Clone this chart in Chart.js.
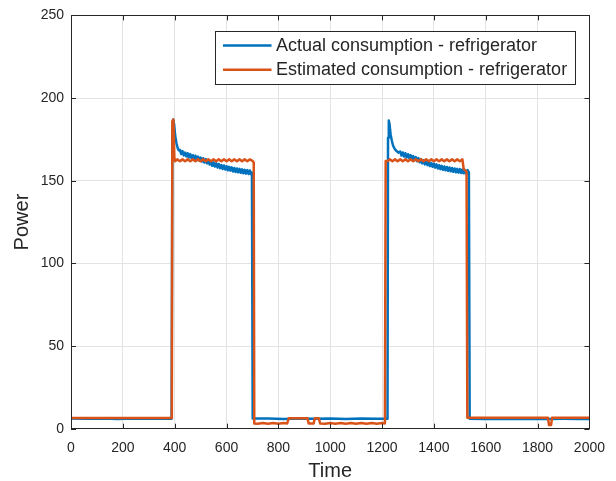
<!DOCTYPE html>
<html>
<head>
<meta charset="utf-8">
<script src="https://cdn.jsdelivr.net/npm/chart.js@4.4.1/dist/chart.umd.min.js"></script>
<style>
  html, body { margin: 0; padding: 0; background: #ffffff; }
  #wrap { width: 616px; height: 481px; }
</style>
</head>
<body>
<div id="wrap"><canvas id="c" width="616" height="481"></canvas></div>
<script>
// ---------- DATA ----------
const seriesLabels = ['Actual consumption - refrigerator', 'Estimated consumption - refrigerator'];
const xTickValues = [0, 200, 400, 600, 800, 1000, 1200, 1400, 1600, 1800, 2000];
const yTickValues = [0, 50, 100, 150, 200, 250];
const xTitle = 'Time';
const yTitle = 'Power';

const actualTime = [
  0, 60, 120, 180, 240, 300, 360, 388, 391, 394, 398, 402, 407, 412, 416,
  420, 425, 430, 435, 440, 445, 450, 455, 460, 465, 470, 475, 480, 485, 490, 495,
  500, 505, 510, 515, 520, 525, 530, 535, 540, 545, 550, 555, 560, 565, 570, 575,
  580, 585, 590, 595, 600, 605, 610, 615, 620, 625, 630, 635, 640, 645, 650, 655,
  660, 665, 670, 675, 680, 685, 690, 695, 698, 701,
  760, 820, 880, 940, 1000, 1060, 1120, 1180, 1221, 1223, 1226, 1229, 1233, 1238, 1243, 1250, 1257, 1264,
  1270, 1275, 1280, 1285, 1290, 1295, 1300, 1305, 1310, 1315, 1320, 1325, 1330, 1335, 1340, 1345,
  1350, 1355, 1360, 1365, 1370, 1375, 1380, 1385, 1390, 1395, 1400, 1405, 1410, 1415, 1420, 1425,
  1430, 1435, 1440, 1445, 1450, 1455, 1460, 1465, 1470, 1475, 1480, 1485, 1490, 1495, 1500, 1505,
  1510, 1515, 1520, 1525, 1530, 1535, 1538,
  1600, 1660, 1720, 1780, 1840, 1900, 1960, 2000
];
const actualPower = [
  6.1, 6.0, 6.2, 5.9, 6.1, 6.0, 6.1, 6.0, 178, 187, 184, 177, 172.5, 169.5, 168.4,
  168.6, 166.2, 167.9, 165.3, 167.0, 164.7, 166.6, 164.0, 166.1, 163.6, 165.4, 163.1, 165.1, 162.5, 164.6, 162.1,
  164.0, 161.6, 163.6, 161.0, 163.1, 160.5, 162.3, 159.8, 161.6, 159.0, 161.1, 158.6, 160.6, 158.0, 160.1, 157.6,
  159.5, 157.1, 159.2, 156.8, 158.8, 156.3, 158.4, 156.1, 158.1, 155.6, 157.7, 155.3, 157.4, 155.1, 157.2, 154.8,
  156.9, 154.5, 156.6, 154.3, 156.4, 154.1, 156.2, 153.9, 155.0, 6.1,
  6.2, 5.9, 6.1, 6.0, 6.2, 5.9, 6.1, 6.0, 6.0, 176, 186.5, 184, 178, 174, 171, 169, 167.8, 167.0,
  167.7, 165.2, 167.1, 164.6, 166.6, 164.1, 166.0, 163.6, 165.5, 163.0, 164.9, 162.4, 164.3, 161.8, 163.7, 161.2,
  163.1, 160.5, 162.4, 159.9, 161.8, 159.4, 161.3, 158.9, 160.8, 158.4, 160.3, 157.9, 159.9, 157.4, 159.4, 157.0,
  159.0, 156.6, 158.6, 156.3, 158.3, 156.0, 158.0, 155.7, 157.7, 155.4, 157.4, 155.1, 157.2, 154.9, 157.0, 154.7,
  156.8, 154.5, 156.6, 154.3, 156.4, 155.0, 6.0,
  5.9, 6.0, 5.8, 6.0, 5.9, 6.0, 5.9, 5.9
];

const estTime = [
  0, 100, 200, 300, 389, 391, 395, 399,
  401, 410, 420, 430, 440, 450, 460, 470, 480, 490, 500, 510, 520, 530, 540, 550,
  560, 570, 580, 590, 600, 610, 620, 630, 640, 650, 660, 670, 680, 690, 700, 705, 707,
  720, 740, 760, 780, 800, 820, 834, 840, 880, 912, 917, 936, 941, 956, 961,
  980, 1000, 1020, 1040, 1060, 1080, 1100, 1120, 1140, 1160, 1180, 1200, 1211, 1214,
  1220, 1230, 1240, 1250, 1260, 1270, 1280, 1290, 1300, 1310, 1320, 1330, 1340, 1350,
  1360, 1370, 1380, 1390, 1400, 1410, 1420, 1430, 1440, 1450, 1460, 1470, 1480, 1490,
  1500, 1510, 1515, 1526, 1529,
  1600, 1700, 1800, 1840, 1844, 1852, 1856, 1900, 1950, 2000
];
const estPower = [
  6.5, 6.5, 6.5, 6.5, 6.5, 186, 187, 163,
  161.8, 162.9, 161.8, 162.9, 161.8, 162.9, 161.8, 162.9, 161.8, 162.9, 161.8, 162.9, 161.8, 162.9, 161.8, 162.9,
  161.8, 162.9, 161.8, 162.9, 161.8, 162.9, 161.8, 162.9, 161.8, 162.9, 161.8, 162.9, 161.8, 162.9, 162.0, 161.0, 3.2,
  3.0, 3.4, 3.0, 3.4, 3.0, 3.4, 3.2, 6.3, 6.3, 6.3, 3.2, 3.2, 6.3, 6.3, 3.2,
  3.0, 3.4, 3.0, 3.4, 3.0, 3.4, 3.0, 3.4, 3.0, 3.4, 3.0, 3.4, 3.2, 162,
  161.8, 162.9, 161.8, 162.9, 161.8, 162.9, 161.8, 162.9, 161.8, 162.9, 161.8, 162.9, 161.8, 162.9,
  161.8, 162.9, 161.8, 162.9, 161.8, 162.9, 161.8, 162.9, 161.8, 162.9, 161.8, 162.9, 161.8, 162.9,
  161.8, 162.9, 157.0, 155.5, 6.6,
  6.6, 6.6, 6.6, 6.6, 2.2, 2.2, 6.6, 6.6, 6.6, 6.6
];

// ---------- STYLE ----------
const FONT = '"Liberation Sans", Arial, Helvetica, sans-serif';
const TEXT = '#262626';
const BLUE = '#0072BD';
const RED = '#D95319';

const toXY = (xs, ys) => xs.map((t, i) => ({ x: t, y: ys[i] }));

const matlabPlugin = {
  id: 'matlabAxes',
  afterDatasetsDraw(chart) {
    const ctx = chart.ctx;
    const ca = chart.chartArea;
    const xs = chart.scales.x, ys = chart.scales.y;
    ctx.save();
    ctx.strokeStyle = TEXT;
    ctx.lineWidth = 1;
    const tl = 5;
    ctx.beginPath();
    xTickValues.forEach(v => {
      const px = Math.round(xs.getPixelForValue(v)) + 0.5;
      ctx.moveTo(px, ca.bottom); ctx.lineTo(px, ca.bottom - tl);
      ctx.moveTo(px, ca.top); ctx.lineTo(px, ca.top + tl);
    });
    yTickValues.forEach(v => {
      const py = Math.round(ys.getPixelForValue(v)) + 0.5;
      ctx.moveTo(ca.left, py); ctx.lineTo(ca.left + tl, py);
      ctx.moveTo(ca.right, py); ctx.lineTo(ca.right - tl, py);
    });
    ctx.stroke();
    ctx.strokeRect(Math.round(ca.left) + 0.5, Math.round(ca.top) + 0.5,
                   Math.round(ca.right - ca.left), Math.round(ca.bottom - ca.top));
    ctx.restore();
  },
  afterDraw(chart) {
    const ctx = chart.ctx;
    const ca = chart.chartArea;
    const bw = 360, bh = 53;
    const bx = Math.round(ca.right - 14 - bw) + 0.5;
    const by = Math.round(ca.top + 15.5) + 0.5;
    ctx.save();
    ctx.fillStyle = '#ffffff';
    ctx.fillRect(bx, by, bw, bh);
    ctx.strokeStyle = TEXT;
    ctx.lineWidth = 1;
    ctx.strokeRect(bx, by, bw, bh);
    const colors = [BLUE, RED];
    const rowsY = [by + 14, by + 38.3];
    ctx.font = '18px ' + FONT;
    ctx.textBaseline = 'middle';
    ctx.textAlign = 'left';
    chart.data.datasets.forEach((ds, i) => {
      ctx.strokeStyle = colors[i];
      ctx.lineWidth = 2.6;
      ctx.beginPath();
      ctx.moveTo(bx + 7.5, rowsY[i]);
      ctx.lineTo(bx + 56, rowsY[i]);
      ctx.stroke();
      ctx.fillStyle = TEXT;
      ctx.fillText(ds.label, bx + 60.5, rowsY[i] + 0.5);
    });
    ctx.restore();
  }
};

new Chart(document.getElementById('c'), {
  type: 'line',
  data: {
    datasets: [
      {
        label: seriesLabels[0],
        data: toXY(actualTime, actualPower),
        borderColor: BLUE, backgroundColor: BLUE,
        borderWidth: 2.5, pointRadius: 0, tension: 0,
        borderJoinStyle: 'round', borderCapStyle: 'round',
        order: 2
      },
      {
        label: seriesLabels[1],
        data: toXY(estTime, estPower),
        borderColor: RED, backgroundColor: RED,
        borderWidth: 2.5, pointRadius: 0, tension: 0,
        borderJoinStyle: 'round', borderCapStyle: 'round',
        order: 1
      }
    ]
  },
  options: {
    responsive: false,
    animation: false,
    devicePixelRatio: 1,
    layout: { padding: { left: 0, top: 14.5, right: 26, bottom: 0 } },
    plugins: { legend: { display: false }, tooltip: { enabled: false } },
    scales: {
      x: {
        type: 'linear', min: 0, max: 2000,
        afterBuildTicks: s => { s.ticks = xTickValues.map(v => ({ value: v })); },
        afterFit: s => { s.height = 52.3; },
        grid: { color: '#e3e3e3', lineWidth: 1, drawTicks: false },
        border: { display: false },
        ticks: { color: TEXT, font: { family: FONT, size: 14 }, padding: 11, maxRotation: 0,
                 callback: v => String(v) },
        title: { display: true, text: xTitle, color: TEXT,
                 font: { family: FONT, size: 20, lineHeight: 1 }, padding: { top: 0, bottom: 0 } }
      },
      y: {
        type: 'linear', min: 0, max: 250,
        afterBuildTicks: s => { s.ticks = yTickValues.map(v => ({ value: v })); },
        afterFit: s => { s.width = 71; },
        grid: { color: '#e3e3e3', lineWidth: 1, drawTicks: false },
        border: { display: false },
        ticks: { color: TEXT, font: { family: FONT, size: 14 }, padding: 7,
                 callback: v => String(v) },
        title: { display: true, text: yTitle, color: TEXT,
                 font: { family: FONT, size: 20, lineHeight: 1 }, padding: { top: 12, bottom: 0 } }
      }
    }
  },
  plugins: [matlabPlugin]
});
</script>
</body>
</html>
